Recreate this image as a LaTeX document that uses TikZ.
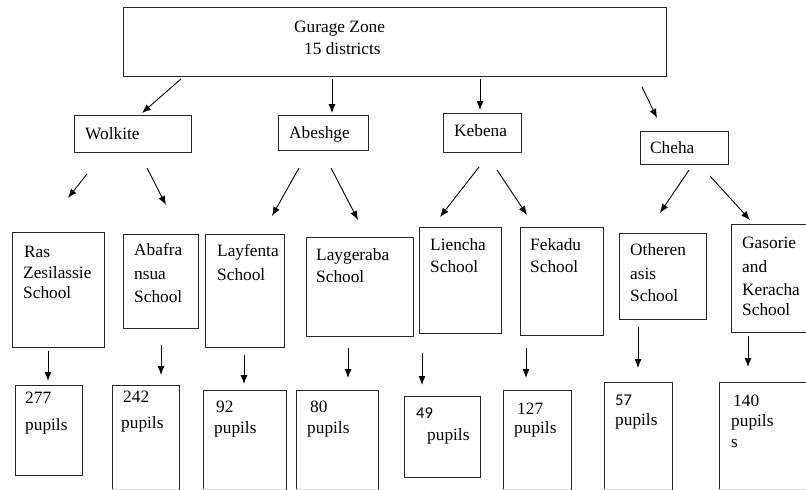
\documentclass[tikz,border=0pt]{standalone}
\usepackage{fontspec}
\setmainfont{Liberation Serif}
\newfontfamily\calib{Carlito}
\usetikzlibrary{arrows.meta}
\tikzset{
  boxline/.style={draw=black!85, line width=0.9pt},
  box/.style={boxline, inner sep=0pt, outer sep=0pt, anchor=north west},
  txt/.style={inner sep=0pt, anchor=base west, font=\fontsize{17.3}{20}\selectfont},
  stxt/.style={inner sep=0pt, anchor=base west, font=\calib\fontsize{16.5}{18}\selectfont},
  arr/.style={line width=0.9pt, -{Latex[length=9pt,width=7pt]}},
}
\newcommand{\rbox}[5]{\node[box, minimum width=#4pt-#2pt, minimum height=#5pt-#3pt] (#1) at (#2,#3) {};}
\newcommand{\obox}[4]{%
  \coordinate (#1) at (#2,#3);
  \draw[boxline] (#2,490) -- (#2,#3) -- (#4,#3) -- (#4,490);
  \draw[black!15, line width=0.8pt] (#2,489.6) -- (#4,489.6);}
\begin{document}
\begin{tikzpicture}[x=1pt, y=-1pt]
\useasboundingbox (0,0) rectangle (806,490);
\clip (0,0) rectangle (806,490);
% top
\rbox{zone}{123}{7}{666}{76}
\node[txt] (zt1) at (294,32) {Gurage Zone};
\node[txt] (zt2) at (304,54) {15 districts};
% districts
\rbox{wol}{74}{115}{191}{152}
\node[txt] at (85,139) {Wolkite};
\rbox{abe}{278}{115}{368}{150}
\node[txt] at (289,138) {Abeshge};
\rbox{keb}{443}{113}{521}{152}
\node[txt] at (454,136) {Kebena};
\rbox{che}{640}{131}{728}{164}
\node[txt] at (650,153) {Cheha};
\draw[arr] (181,79) -- (142,113);
\draw[arr] (332,79) -- (332,113);
\draw[arr] (480,79) -- (480,110);
\draw[arr] (642,87) -- (657,118);
% district -> school arrows
\draw[arr] (87,174) -- (68,198);
\draw[arr] (147,168) -- (166,205);
\draw[arr] (299,168) -- (272,216);
\draw[arr] (331,168) -- (358,220);
\draw[arr] (479,167) -- (440,217);
\draw[arr] (497,170) -- (527,215);
\draw[arr] (689,170) -- (660,213);
\draw[arr] (710,176) -- (750,220);
% schools
\rbox{ras}{12}{232}{104}{347}
\node[txt] at (24,257) {Ras};
\node[txt] at (23,278) {Zesilassie};
\node[txt] at (23,298) {School};
\rbox{aba}{123}{234}{198}{328}
\node[txt] at (134,255) {Abafra};
\node[txt] at (134,279) {nsua};
\node[txt] at (134,302) {School};
\rbox{layf}{205}{234}{284}{347}
\node[txt] at (217,256) {Layfenta};
\node[txt] at (217,280) {School};
\rbox{layg}{306}{237}{413}{336}
\node[txt] at (316,260) {Laygeraba};
\node[txt] at (316,282) {School};
\rbox{lie}{419}{227}{501}{333}
\node[txt] at (430,250) {Liencha};
\node[txt] at (430,272) {School};
\rbox{fek}{520}{227}{603}{335}
\node[txt] at (530,250) {Fekadu};
\node[txt] at (530,272) {School};
\rbox{oth}{619}{233}{706}{319}
\node[txt] at (630,255) {Otheren};
\node[txt] at (630,279) {asis};
\node[txt] at (630,301) {School};
\rbox{gas}{731}{224}{812}{332}
\node[txt] at (742,248) {Gasorie};
\node[txt] at (742,272) {and};
\node[txt] at (742,295) {Keracha};
\node[txt] at (742,315) {School};
% school -> pupils arrows
\draw[arr] (48,351) -- (48,381);
\draw[arr] (161,345) -- (161,375);
\draw[arr] (244,355) -- (244,384);
\draw[arr] (348,348) -- (348,378);
\draw[arr] (422,353) -- (422,385);
\draw[arr] (526,348) -- (526,378);
\draw[arr] (638,327) -- (638,368);
\draw[arr] (748,336) -- (748,367);
% pupils
\rbox{p277}{15}{385}{82}{475}
\node[txt] at (25,403) {277};
\node[txt] at (25,430) {pupils};
\obox{p242}{112}{385}{179}
\node[txt] at (123,402) {242};
\node[txt] at (121,428) {pupils};
\obox{p92}{203}{390}{286}
\node[txt] at (216,412) {92};
\node[txt] at (214,433) {pupils};
\obox{p80}{296}{390}{378}
\node[txt] at (310,412) {80};
\node[txt] at (307,433) {pupils};
\rbox{p49}{404}{396}{480}{477}
\node[stxt] at (416,418) {49};
\node[txt] at (427,440) {pupils};
\obox{p127}{503}{390}{571}
\node[txt] at (517,414) {127};
\node[txt] at (514,433) {pupils};
\obox{p57}{604}{382}{672}
\node[stxt] at (615,405) {57};
\node[txt] at (615,425) {pupils};
\obox{p140}{719}{382}{812}
\node[txt] at (733,406) {140};
\node[txt] at (731,426) {pupils};
\node[txt] at (731,447) {s};
\end{tikzpicture}
\end{document}
